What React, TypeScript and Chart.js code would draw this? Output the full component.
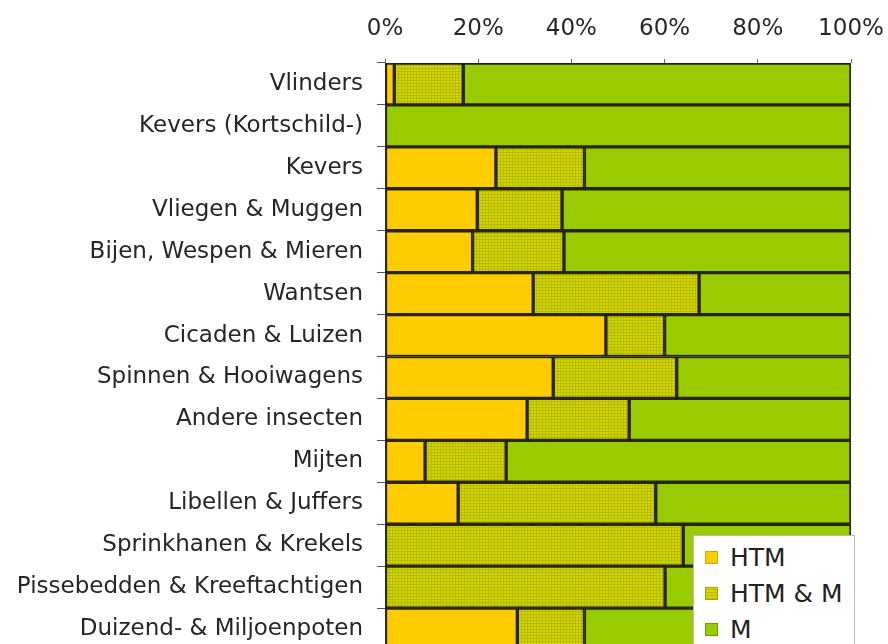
import React, { useEffect, useRef } from "react";
import { Chart, registerables } from "chart.js";

Chart.register(...registerables);

const categories = [
  "Vlinders",
  "Kevers (Kortschild-)",
  "Kevers",
  "Vliegen & Muggen",
  "Bijen, Wespen & Mieren",
  "Wantsen",
  "Cicaden & Luizen",
  "Spinnen & Hooiwagens",
  "Andere insecten",
  "Mijten",
  "Libellen & Juffers",
  "Sprinkhanen & Krekels",
  "Pissebedden & Kreeftachtigen",
  "Duizend- & Miljoenpoten",
];

const seriesNames = ["HTM", "HTM & M", "M"];
const htm = [2, 0, 23.8, 19.8, 18.8, 31.8, 47.4, 36.1, 30.5, 8.6, 15.7, 0, 0, 28.4];
const htmM = [14.8, 0, 19, 18.2, 19.6, 35.6, 12.6, 26.5, 21.9, 17.4, 42.4, 64, 60.1, 14.4];
const m = [83.2, 100, 57.2, 62, 61.6, 32.6, 40, 37.4, 47.6, 74, 41.9, 36, 39.9, 57.2];
const xTicks = [0, 20, 40, 60, 80, 100];

const FONT = "'DejaVu Sans', Verdana, sans-serif";
const COL_HTM = "#FFCC00";
const COL_M = "#99CC00";
const COL_MIX = "#CFCC00";

function makePattern(): CanvasPattern | string {
  const c = document.createElement("canvas");
  c.width = 3;
  c.height = 3;
  const ctx = c.getContext("2d");
  if (!ctx) return COL_MIX;
  ctx.fillStyle = "#DCD200";
  ctx.fillRect(0, 0, 3, 3);
  ctx.fillStyle = "#AFBE00";
  ctx.fillRect(0, 2, 3, 1);
  ctx.fillRect(2, 0, 1, 3);
  const p = ctx.createPattern(c, "repeat");
  return p || COL_MIX;
}

export default function App() {
  const ref = useRef<HTMLCanvasElement | null>(null);

  useEffect(() => {
    if (!ref.current) return;
    const pattern = makePattern();
    const border = "#262604";
    const chart = new Chart(ref.current, {
      type: "bar",
      data: {
        labels: categories,
        datasets: [
          { label: seriesNames[0], data: htm, backgroundColor: COL_HTM },
          { label: seriesNames[1], data: htmM, backgroundColor: pattern as any },
          { label: seriesNames[2], data: m, backgroundColor: COL_M },
        ].map((d) => ({
          ...d,
          borderColor: border,
          borderWidth: 2,
          borderSkipped: false as any,
          barPercentage: 1,
          categoryPercentage: 1,
        })),
      },
      options: {
        indexAxis: "y",
        responsive: false,
        animation: false,
        layout: { padding: { left: 0, right: 37, top: 0, bottom: 0 } },
        plugins: {
          legend: { display: false },
          tooltip: { enabled: false },
        },
        scales: {
          x: {
            position: "top",
            stacked: true,
            min: 0,
            max: 100,
            afterFit: (s: any) => {
              s.height = 63;
              s.paddingLeft = 0;
              s.paddingRight = 0;
            },
            afterBuildTicks: (s: any) => {
              s.ticks = xTicks.map((v) => ({ value: v }));
            },
            ticks: {
              callback: (v: any) => v + "%",
              font: { family: FONT, size: 23 },
              color: "#262626",
              padding: 16,
              maxRotation: 0,
            },
            grid: {
              drawOnChartArea: false,
              tickLength: 4,
              color: "#666",
            },
            border: { display: false },
          },
          y: {
            stacked: true,
            afterFit: (s: any) => {
              s.width = 385;
              s.paddingTop = 0;
              s.paddingBottom = 0;
            },
            ticks: {
              font: { family: FONT, size: 23 },
              color: "#262626",
              padding: 14,
            },
            grid: {
              drawOnChartArea: false,
              tickLength: 8,
              color: "#555",
              offset: true,
            },
            border: { display: true, color: "#444", width: 1 },
          },
        },
      },
    });
    return () => chart.destroy();
  }, []);

  const swatches = [
    { name: seriesNames[0], bg: COL_HTM, bd: "#d9a800" },
    {
      name: seriesNames[1],
      bg: "repeating-linear-gradient(0deg, #AFBE00 0 1px, #DCD200 1px 3px), " + COL_MIX,
      bd: "#a5a500",
    },
    { name: seriesNames[2], bg: COL_M, bd: "#6f9a00" },
  ];

  return (
    <div
      style={{
        position: "fixed",
        left: 0,
        top: 0,
        width: 888,
        height: 644,
        overflow: "hidden",
        background: "#fff",
      }}
    >
      <canvas ref={ref} width={888} height={650} style={{ display: "block" }} />
      <div
        style={{
          position: "absolute",
          left: 693,
          top: 535,
          width: 162,
          height: 130,
          background: "#fff",
          border: "1px solid #bbb",
          boxSizing: "border-box",
          fontFamily: FONT,
          fontSize: 25,
          color: "#222",
        }}
      >
        {swatches.map((s, i) => (
          <div
            key={s.name}
            style={{
              position: "absolute",
              left: 11,
              top: 6 + i * 36,
              height: 30,
              display: "flex",
              alignItems: "center",
              whiteSpace: "nowrap",
            }}
          >
            <span
              style={{
                display: "inline-block",
                width: 11,
                height: 11,
                background: s.bg,
                border: "1px solid " + s.bd,
                marginRight: 12,
              }}
            />
            <span>{s.name}</span>
          </div>
        ))}
      </div>
    </div>
  );
}
